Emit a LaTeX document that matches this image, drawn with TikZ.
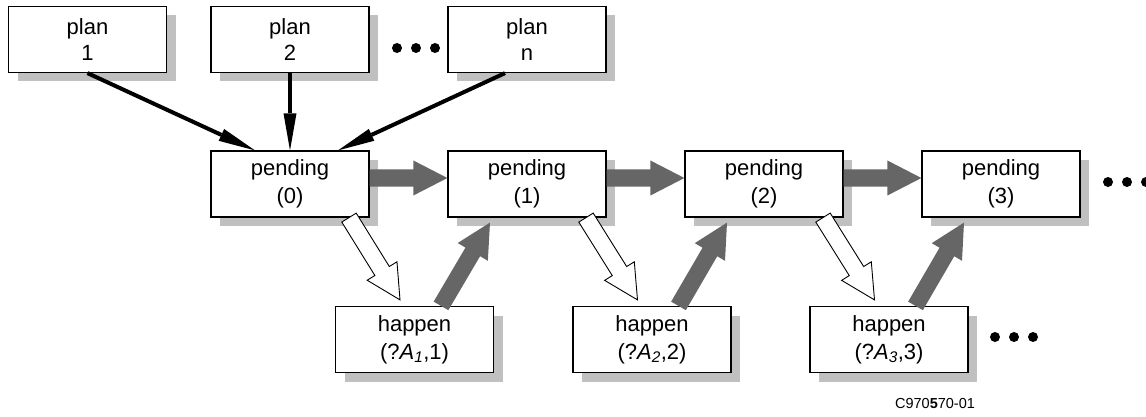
\documentclass[tikz,border=0pt]{standalone}
\usepackage{fontspec}
\setmainfont{Liberation Sans}
\definecolor{flow}{RGB}{102, 102, 102}
\definecolor{shade}{RGB}{192, 192, 192}
\usetikzlibrary{arrows.meta, positioning, shadows, calc}

% fat arrow drawn as a polygon: style, from, to
\newcommand{\fatarrow}[3]{%
  \coordinate (fa-s) at (#2);
  \coordinate (fa-e) at (#3);
  \coordinate (fa-n) at ($(fa-e)!34pt!(fa-s)$);
  \path[#1] ($(fa-s)!8.5pt!90:(fa-e)$) -- ($(fa-n)!8.5pt!90:(fa-e)$)
    -- ($(fa-n)!17.5pt!90:(fa-e)$) -- (fa-e) -- ($(fa-n)!17.5pt!-90:(fa-e)$)
    -- ($(fa-n)!8.5pt!-90:(fa-e)$) -- ($(fa-s)!8.5pt!-90:(fa-e)$) -- cycle;}

\begin{document}
\begin{tikzpicture}[x=1pt, y=-1pt,
        every node/.style={font=\fontsize{22}{28}\selectfont, align=center},
        box/.style={draw=black, line width=1.2pt, fill=white, minimum width=158pt, minimum height=66pt, inner sep=0pt,
            drop shadow={shadow xshift=9pt, shadow yshift=-9pt, fill=shade, opacity=1}},
        dot/.style={circle, fill=black, inner sep=0pt, minimum size=10pt},
        arr/.style={-{Triangle[length=37pt, width=13pt, line width=0pt]}, line width=4pt},
        garr/.style={fill=flow},
        warr/.style={fill=white, draw=black, line width=0.9pt, line join=miter}
    ]
        \useasboundingbox (0,0) rectangle (1146,417);

        % Plans
        \node[box, font=\fontsize{22}{26}\selectfont] (plan1) at (87.5, 39.5) {plan\\1};
        \node[box, font=\fontsize{22}{26}\selectfont] (plan2) at (290, 39.5) {plan\\2};
        \node[box, font=\fontsize{22}{26}\selectfont] (plann) at (527, 39.5) {plan\\n};
        \node[dot] (pd1) at (397, 48) {};
        \node[dot] (pd2) at (416, 48) {};
        \node[dot] (pd3) at (435, 48) {};

        % Pending chain
        \node[box] (p0) at (290, 184) {pending\\(0)};
        \node[box] (p1) at (527, 184) {pending\\(1)};
        \node[box] (p2) at (764, 184) {pending\\(2)};
        \node[box] (p3) at (1001, 184) {pending\\(3)};
        \node[dot] (qd1) at (1108, 182) {};
        \node[dot] (qd2) at (1127, 182) {};
        \node[dot] (qd3) at (1146, 182) {};

        % Happen row
        \node[box] (h1) at (414.5, 339.5) {happen\\(?\textit{A}\textsubscript{\textit{1}},1)};
        \node[box] (h2) at (652, 339.5) {happen\\(?\textit{A}\textsubscript{\textit{2}},2)};
        \node[box] (h3) at (889, 339.5) {happen\\(?\textit{A}\textsubscript{\textit{3}},3)};
        \node[dot] (hd1) at (995, 337) {};
        \node[dot] (hd2) at (1014, 337) {};
        \node[dot] (hd3) at (1033, 337) {};

        \node[font=\fontsize{14.5}{16}\selectfont] (code) at (935, 404) {C970\textbf{5}70-01};

        \draw[arr] (plan1.south) -- ([xshift=-35pt]p0.north);
        \draw[arr] (plan2) -- (p0);
        \draw[arr] ([xshift=-22pt]plann.south) -- ([xshift=48pt]p0.north);

        \fatarrow{garr}{[yshift=6pt]p0.east}{[yshift=6pt]p1.west}
        \fatarrow{garr}{[yshift=6pt]p1.east}{[yshift=6pt]p2.west}
        \fatarrow{garr}{[yshift=6pt]p2.east}{[yshift=6pt]p3.west}

        \fatarrow{warr}{[xshift=59pt]p0.south}{[xshift=-14.5pt, yshift=6pt]h1.north}
        \fatarrow{warr}{[xshift=59pt]p1.south}{[xshift=-14.5pt, yshift=6pt]h2.north}
        \fatarrow{warr}{[xshift=59pt]p2.south}{[xshift=-14.5pt, yshift=6pt]h3.north}

        \fatarrow{garr}{[xshift=26.5pt]h1.north}{[xshift=-37pt, yshift=-5pt]p1.south}
        \fatarrow{garr}{[xshift=26.5pt]h2.north}{[xshift=-37pt, yshift=-5pt]p2.south}
        \fatarrow{garr}{[xshift=26.5pt]h3.north}{[xshift=-37pt, yshift=-5pt]p3.south}
    \end{tikzpicture}
\end{document}
